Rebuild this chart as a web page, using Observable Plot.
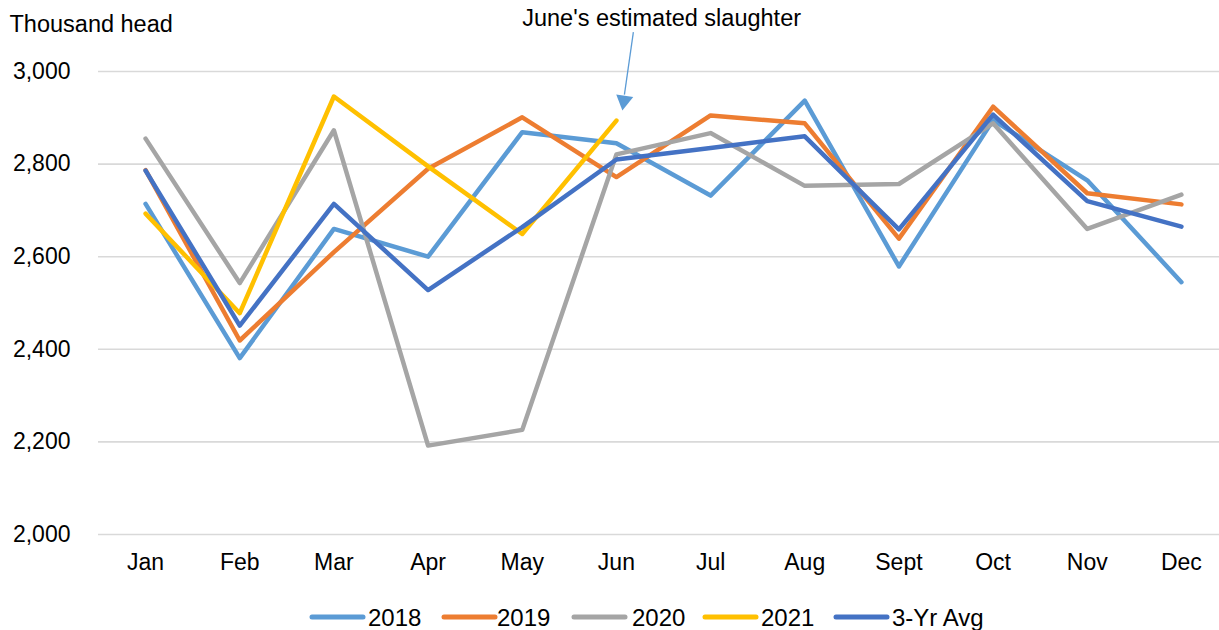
<!DOCTYPE html>
<html>
<head>
<meta charset="utf-8">
<script src="https://cdn.jsdelivr.net/npm/d3@7"></script>
<script src="https://cdn.jsdelivr.net/npm/@observablehq/plot@0.6"></script>
<style>
  html, body { margin: 0; padding: 0; background: #fff; }
  #wrap { position: relative; width: 1219px; height: 630px; overflow: hidden; font-family: "Liberation Sans", Arial, sans-serif; }
  #legend { position: absolute; left: 0; top: 600px; }
</style>
</head>
<body>
<div id="wrap">
  <div id="chart"></div>
  <div id="legend"></div>
</div>
<script>
const months = ["Jan","Feb","Mar","Apr","May","Jun","Jul","Aug","Sept","Oct","Nov","Dec"];
const yTicks = [2000, 2200, 2400, 2600, 2800, 3000];
const seriesNames = ["2018","2019","2020","2021","3-Yr Avg"];
const colors = ["#5B9BD5","#ED7D31","#A5A5A5","#FFC000","#4472C4"];

const v2018 = [2714, 2381, 2660, 2600, 2869, 2845, 2732, 2937, 2579, 2895, 2765, 2545];
const v2019 = [2787, 2419, 2610, 2790, 2901, 2772, 2905, 2888, 2639, 2924, 2737, 2713];
const v2020 = [2855, 2543, 2873, 2192, 2226, 2821, 2867, 2753, 2757, 2888, 2660, 2734];
const v2021 = [2693, 2478, 2946, 2795, 2649, 2894];
const vAvg  = [2786, 2451, 2714, 2528, 2664, 2810, 2835, 2860, 2659, 2907, 2720, 2665];

const annotationText = "June's estimated slaughter";
const yTitle = "Thousand head";

const allSeries = [v2018, v2019, v2020, v2021, vAvg];
const rows = [];
allSeries.forEach((vals, s) => vals.forEach((v, i) => rows.push({series: seriesNames[s], i, month: months[i], value: v})));

// annotation anchor positions in data space (month index, value)
const junIdx = months.indexOf("Jun");
const arrowTail = {x: junIdx + 0.18, y: 3085};
const arrowEnd  = {x: junIdx + 0.085, y: 2950};
const arrowHead = {x: junIdx + 0.08, y: 2937};
const labelPos  = {x: junIdx + 0.48, y: 3114};

const chart = Plot.plot({
  width: 1219,
  height: 580,
  marginLeft: 98,
  marginRight: 0,
  marginTop: 71,
  marginBottom: 46,
  style: {fontFamily: "'Liberation Sans', Arial, sans-serif", fontSize: "23px", color: "#000", background: "#fff", overflow: "visible"},
  x: {type: "linear", domain: [-0.5, 11.5], range: [98, 1228]},
  y: {domain: [2000, 3000], range: [534, 71]},
  marks: [
    Plot.ruleY(yTicks, {stroke: "#D9D9D9", strokeWidth: 1.6}),
    Plot.axisY(yTicks, {tickSize: 0, tickPadding: 28, tickFormat: d3.format(","), fontSize: 23, label: null}),
    Plot.axisX(d3.range(months.length), {tickSize: 0, tickPadding: 19, tickFormat: i => months[i], fontSize: 23, label: null}),
    Plot.line(rows, {x: "i", y: "value", z: "series", stroke: "series", strokeWidth: 4.5, strokeLinecap: "round", strokeLinejoin: "round"}),
    Plot.link([0], {x1: () => arrowTail.x, y1: () => arrowTail.y, x2: () => arrowEnd.x, y2: () => arrowEnd.y, stroke: "#5B9BD5", strokeWidth: 1.3, clip: false}),
    Plot.dot([0], {x: () => arrowHead.x, y: () => arrowHead.y, symbol: "triangle", r: 6.4, fill: "#5B9BD5", stroke: "none", rotate: 189}),
    Plot.text([annotationText], {x: () => labelPos.x, y: () => labelPos.y, text: d => d, fontSize: 23.5, fill: "#000", textAnchor: "middle", lineAnchor: "middle"}),
    Plot.text([yTitle], {frameAnchor: "top-left", dx: -89, dy: -47, text: d => d, fontSize: 23.5, fill: "#000", textAnchor: "start", lineAnchor: "middle"})
  ],
  color: {domain: seriesNames, range: colors}
});
document.getElementById("chart").appendChild(chart);

// legend
const lg = d3.select("#legend").append("svg").attr("width", 1219).attr("height", 30);
const swatchX = [310, 442, 572, 703, 834];
const textX = [368, 497, 632, 761, 892];
seriesNames.forEach((name, k) => {
  lg.append("line").attr("x1", swatchX[k] + 2).attr("x2", swatchX[k] + 53).attr("y1", 17).attr("y2", 17)
    .attr("stroke", colors[k]).attr("stroke-width", 5).attr("stroke-linecap", "round");
  lg.append("text").attr("x", textX[k]).attr("y", 17).attr("dy", "0.36em")
    .attr("font-family", "'Liberation Sans', Arial, sans-serif").attr("font-size", 24)
    .attr("fill", "#000").text(name);
});
</script>
</body>
</html>
